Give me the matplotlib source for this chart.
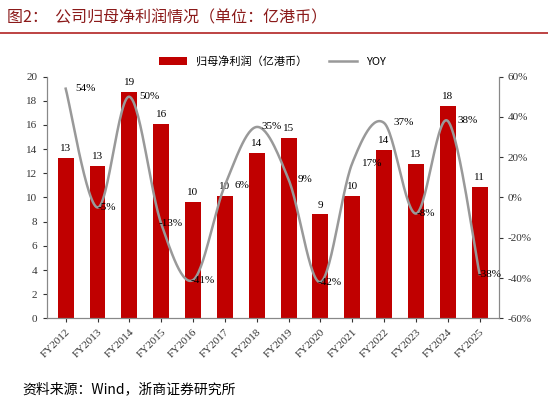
import numpy as np
import matplotlib
matplotlib.use("Agg")
import matplotlib.pyplot as plt

plt.rcParams['font.family'] = ['Noto Sans CJK SC', 'DejaVu Sans']

years = ["FY2012","FY2013","FY2014","FY2015","FY2016","FY2017","FY2018","FY2019",
         "FY2020","FY2021","FY2022","FY2023","FY2024","FY2025"]
profit = [13.3,12.6,18.7,16.1,9.6,10.1,13.7,14.9,8.6,10.1,13.9,12.8,17.6,10.9]
profit_labels = ["13","13","19","16","10","10","14","15","9","10","14","13","18","11"]
yoy = [54,-5,50,-13,-41,6,35,9,-42,17,37,-8,38,-38]

def smooth_curve(x, y, n=30):
    # Catmull-Rom style bezier (like office "smoothed line")
    x = np.asarray(x, float); y = np.asarray(y, float)
    P = np.column_stack([x, y]); k = len(P)
    out = []
    for i in range(k-1):
        p0 = P[max(i-1, 0)]; p1 = P[i]; p2 = P[i+1]; p3 = P[min(i+2, k-1)]
        c1 = p1 + (p2 - p0) / 6; c2 = p2 - (p3 - p1) / 6
        t = np.linspace(0, 1, n)[:, None]
        seg = (1-t)**3*p1 + 3*(1-t)**2*t*c1 + 3*(1-t)*t**2*c2 + t**3*p2
        out.append(seg if i == 0 else seg[1:])
    out = np.vstack(out)
    return out[:, 0], out[:, 1]

fig = plt.figure(figsize=(5.48, 4.03), dpi=100)
fig.text(0.012, 0.955, "图2：  公司归母净利润情况（单位：亿港币）", fontsize=11.5,
         color="#8b1a1a", va='center')
fig.add_artist(plt.Line2D([0.0, 1.0], [0.918, 0.918], color="#b22222", lw=1.2))
fig.text(0.04, 0.035, "资料来源：Wind，浙商证券研究所", fontsize=10, va='center')

ax = fig.add_axes([0.085, 0.21, 0.825, 0.6])
x = np.arange(len(years))
ax.bar(x, profit, width=0.5, color="#c00000", label="归母净利润（亿港币）")
for xi, v, t in zip(x, profit, profit_labels):
    ax.text(xi, v + 0.4, t, ha='center', va='bottom', fontsize=8,
            family=['Liberation Serif'])
ax.set_ylim(0, 20); ax.set_yticks(range(0, 21, 2))
ax.set_xlim(-0.6, len(years)-0.4)
ax.set_xticks(x)
ax.set_xticklabels(years, rotation=45, ha='right', rotation_mode='anchor',
                   fontsize=8, family=['Liberation Serif'])
for lab in ax.get_yticklabels():
    lab.set_fontsize(8); lab.set_family(['Liberation Serif'])

ax2 = ax.twinx()
xs, ys = smooth_curve(x, yoy)
ax2.plot(xs, ys, color="#999999", lw=1.8, label="YOY")
for xi, v in zip(x, yoy):
    dx = 0.15 if v == 35 else 0.3
    ax2.text(xi + dx, v, f"{v}%", ha='left' if v > 0 else 'center', va='center',
             fontsize=8, family=['Liberation Serif'])
ax2.set_ylim(-60, 60); ax2.set_yticks(range(-60, 61, 20))
ax2.set_yticklabels([f"{t}%" for t in range(-60, 61, 20)], fontsize=8,
                    family=['Liberation Serif'])
for a in (ax, ax2):
    for s in a.spines.values():
        s.set_color("#888888")
    a.tick_params(length=3, colors="#333333")
ax.spines['top'].set_visible(False); ax2.spines['top'].set_visible(False)

h1, l1 = ax.get_legend_handles_labels(); h2, l2 = ax2.get_legend_handles_labels()
ax.legend(h1+h2, l1+l2, loc='lower center', bbox_to_anchor=(0.5, 1.0), ncol=2,
          frameon=False, fontsize=8, handlelength=2.5)
fig.savefig("out.png", dpi=100)
